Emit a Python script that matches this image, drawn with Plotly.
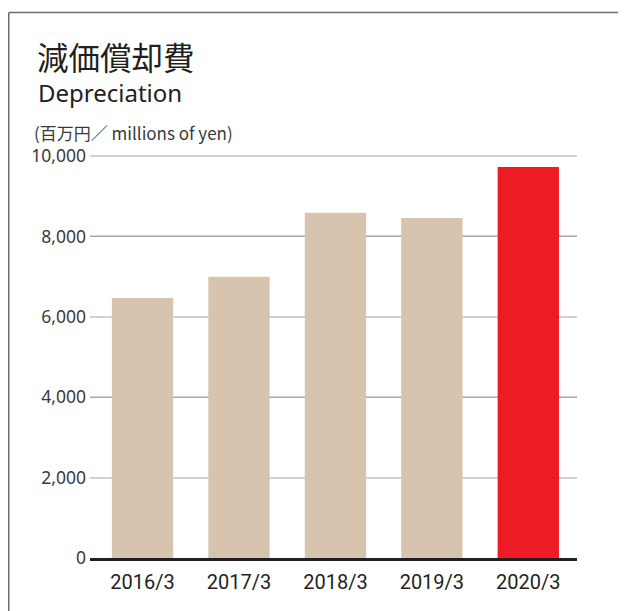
import plotly.graph_objects as go

years = ['2016/3', '2017/3', '2018/3', '2019/3', '2020/3']
depreciation = [6465, 6995, 8590, 8455, 9725]
bar_colors = ['#d7c4af', '#d7c4af', '#d7c4af', '#d7c4af', '#ed1c24']
y_ticks = [0, 2000, 4000, 6000, 8000, 10000]
y_tick_labels = ['0', '2,000', '4,000', '6,000', '8,000', '10,000']

W, H = 618, 603
L, R, T, B = 82, 49, 146, 53
PW, PH = W - L - R, H - T - B
Y_MAX = 10050


def px(x):
    return (x - L) / PW


def py(y):
    return (H - B - y) / PH


fig = go.Figure()

fig.add_trace(go.Bar(
    x=list(range(len(years))),
    y=depreciation,
    marker=dict(color=bar_colors, line=dict(width=0)),
    width=0.636,
    hoverinfo='skip'
))

# second axis only for the darker thin gridlines (4,000 / 8,000)
fig.add_trace(go.Scatter(x=[0], y=[0], yaxis='y2', mode='markers',
                         marker=dict(opacity=0), hoverinfo='skip', showlegend=False))

fig.update_layout(
    width=W, height=H,
    margin=dict(l=L, r=R, t=T, b=B),
    paper_bgcolor='white',
    plot_bgcolor='white',
    showlegend=False,
    font=dict(family='Noto Sans, sans-serif', color='#3a3a3a'),
    xaxis=dict(
        range=[-0.545, 4.505],
        tickvals=list(range(len(years))),
        ticktext=years,
        tickfont=dict(family='Roboto, sans-serif', size=20, color='#231f20'),
        showgrid=False,
        showline=True, linecolor='#231f20', linewidth=2.5,
        ticks='', zeroline=False,
        ticklabelstandoff=4,
    ),
    yaxis=dict(
        range=[0, Y_MAX],
        tickvals=y_ticks,
        ticktext=y_tick_labels,
        tickfont=dict(size=17.5, color='#3a3a3a'),
        showgrid=True, gridcolor='#d2d2d2', gridwidth=2,
        zeroline=False, ticks='', showline=False,
        ticklabelstandoff=3,
    ),
    yaxis2=dict(
        overlaying='y',
        range=[0, Y_MAX],
        tickvals=[4000, 8000],
        showticklabels=False,
        showgrid=True, gridcolor='#a8a8a8', gridwidth=1,
        zeroline=False, ticks='', showline=False,
    ),
    shapes=[
        dict(type='line', xref='paper', yref='paper', x0=px(0.75), x1=px(W + 5),
             y0=py(4.5), y1=py(4.5),
             line=dict(color='#6d6d6d', width=1.5)),
        dict(type='line', xref='paper', yref='paper', x0=px(0.75), x1=px(0.75),
             y0=py(4.5), y1=py(H + 5),
             line=dict(color='#6d6d6d', width=1.5)),
    ],
    annotations=[
        dict(text='減価償却費', xref='paper', yref='paper', x=px(27), y=py(48),
             xanchor='left', yanchor='middle', showarrow=False,
             font=dict(family='Noto Sans CJK JP', size=31.5, color='#231f20')),
        dict(text='Depreciation', xref='paper', yref='paper', x=px(28), y=py(84),
             xanchor='left', yanchor='middle', showarrow=False,
             font=dict(family='Noto Sans', size=24, color='#231f20')),
        dict(text='(百万円／ millions of yen)', xref='paper', yref='paper', x=px(24),
             y=py(125),
             xanchor='left', yanchor='middle', showarrow=False,
             font=dict(family='Noto Sans CJK JP', size=17, color='#3a3a3a')),
    ],
)

fig.write_html("out.html")
